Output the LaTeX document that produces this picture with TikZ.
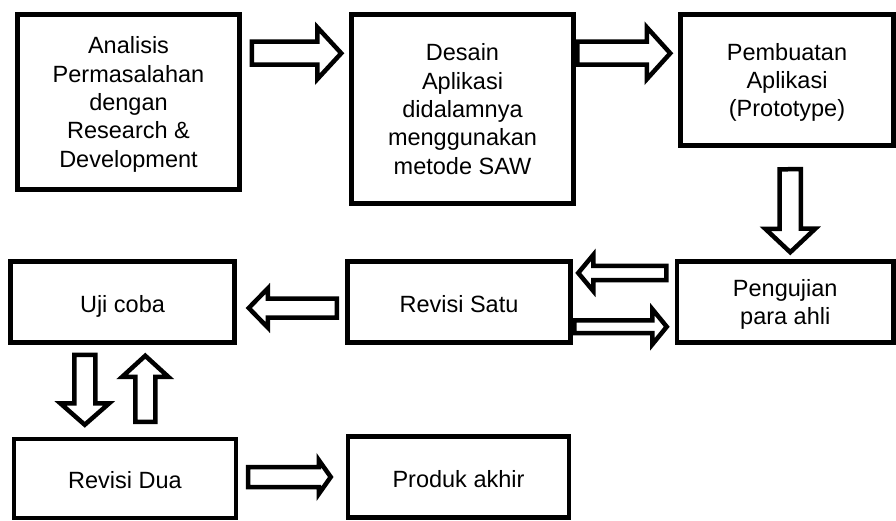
\documentclass[tikz,border=0pt]{standalone}
\usepackage{fontspec}
\setmainfont{Liberation Sans}
\usepackage{tikz}
\usetikzlibrary{calc}

\tikzset{
  kotak/.style={draw=black, line width=4.5pt, inner sep=0pt, align=center,
    font=\fontsize{23.5}{28.3}\selectfont, text depth=0pt,
    execute at begin node={\rule{0pt}{20pt}}},
  blok/.style={draw=black, fill=white, line width=4.5pt}
}

% block arrow: start, tip, shaft half width, head half width, head length
\newcommand{\blokpanah}[5]{%
  \coordinate (hb) at ($(#2)!#5pt!(#1)$);
  \draw[blok] ($(#1)!#3pt!90:(#2)$) -- ($(hb)!#3pt!90:(#2)$) -- ($(hb)!#4pt!90:(#2)$) -- (#2)
    -- ($(hb)!#4pt!-90:(#2)$) -- ($(hb)!#3pt!-90:(#2)$) -- ($(#1)!#3pt!-90:(#2)$) -- cycle;
}

\begin{document}
\begin{tikzpicture}[x=1pt, y=-1pt]
  \useasboundingbox (0,0) rectangle (896,521);

  \node[kotak, minimum width=222pt, minimum height=175pt] (analisis) at (128.5,102)
    {Analisis\\Permasalahan\\dengan\\Research \&\\Development};
  \node[kotak, minimum width=222pt, minimum height=189pt] (desain) at (462.5,109)
    {Desain\\Aplikasi\\didalamnya\\menggunakan\\metode SAW};
  \node[kotak, minimum width=213pt, minimum height=131pt] (pembuatan) at (787,80)
    {Pembuatan\\Aplikasi\\(Prototype)};
  \node[kotak, minimum width=216.5pt, minimum height=81pt] (pengujian) at (785.25,302)
    {Pengujian\\para ahli};
  \node[kotak, minimum width=223pt, minimum height=81pt] (revisisatu) at (459,302)
    {Revisi Satu};
  \node[kotak, minimum width=224pt, minimum height=81pt] (ujicoba) at (122.5,302)
    {Uji coba};
  \node[kotak, minimum width=222pt, minimum height=79pt] (revisidua) at (125,478.5)
    {Revisi Dua};
  \node[kotak, minimum width=221pt, minimum height=81pt] (produk) at (458.5,477)
    {Produk akhir};

  % arrow ends
  \coordinate (a1) at ($(analisis.north east)+(10,41)$);
  \coordinate (b1) at ($(desain.north west)+(-8,41)$);
  \coordinate (a2) at ($(desain.north east)+(1.5,41)$);
  \coordinate (b2) at ($(pembuatan.north west)+(-8,41)$);
  \coordinate (a3) at ($(pembuatan.south)+(3.2,21.5)$);
  \coordinate (b3) at ($(pengujian.north)+(5,-7)$);
  \coordinate (a4) at ($(pengujian.north west)+(-8.5,13.7)$);
  \coordinate (b4) at ($(revisisatu.north east)+(5.5,13.7)$);
  \coordinate (a5) at ($(revisisatu.south east)+(1.5,-18)$);
  \coordinate (b5) at ($(pengujian.south west)+(-8,-18)$);
  \coordinate (a6) at ($(revisisatu.west)+(-8.5,6)$);
  \coordinate (b6) at ($(ujicoba.east)+(12,6)$);
  \coordinate (a7) at ($(ujicoba.south west)+(76.5,10)$);
  \coordinate (b7) at ($(revisidua.north west)+(73,-12)$);
  \coordinate (a8) at ($(revisidua.north west)+(133.5,-15)$);
  \coordinate (b8) at ($(ujicoba.south west)+(137,11)$);
  \coordinate (a9) at ($(revisidua.east)+(9.8,-1.5)$);
  \coordinate (b9) at ($(produk.west)+(-15,0)$);

  \blokpanah{a1}{b1}{11.5}{26}{24}
  \blokpanah{a2}{b2}{11.5}{26}{23.5}
  \blokpanah{a3}{b3}{10.7}{25}{23.5}
  \blokpanah{a4}{b4}{7.2}{18}{15}
  \blokpanah{a5}{b5}{6.4}{17.7}{14.5}
  \blokpanah{a6}{b6}{9.5}{19.5}{19}
  \blokpanah{a7}{b7}{10.5}{24.5}{21.5}
  \blokpanah{a8}{b8}{10}{23}{21}
  \blokpanah{a9}{b9}{10}{17}{12}
\end{tikzpicture}
\end{document}
